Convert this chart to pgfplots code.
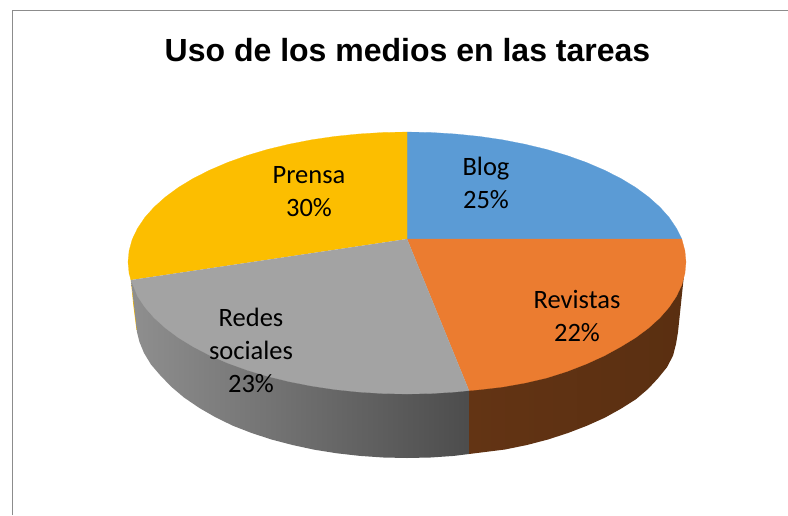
\documentclass[border=0pt]{standalone}
\usepackage{pgfplots}
\pgfplotsset{compat=1.18}
\usepackage{fontspec}
\setmainfont{Carlito}
\newfontfamily\titlefont{Liberation Sans}[BoldFont={Liberation Sans Bold}]
\definecolor{cblog}{HTML}{5B9BD5}
\definecolor{crev}{HTML}{EB7C30}
\definecolor{cred}{HTML}{A3A3A3}
\definecolor{cpre}{HTML}{FCBE00}
\definecolor{frame}{HTML}{8C8C8C}
\definecolor{brownA}{HTML}{633414}
\definecolor{brownB}{HTML}{5A2F11}
\begin{document}
\begin{tikzpicture}[x=1pt,y=1pt]
\path[use as bounding box] (0,0) rectangle (788,515);
\begin{axis}[at={(0,0)},anchor=south west,scale only axis,width=788pt,height=515pt,
  xmin=0,xmax=788,ymin=0,ymax=515,y dir=reverse,axis lines=none,no marks,clip=true]
% frame
\addplot[frame,line width=1.2pt] coordinates {(12.5,515) (12.5,10.5) (788,10.5)};
% yellow sliver
\addplot[fill=cpre,draw=none] coordinates {(130,272) (133.3,305) (136.5,330) (137.5,330) (131,280)};
% side: social networks
\addplot[draw=none,left color=black!44,right color=black!70] coordinates {
(131,280) (137,332) (139.5,342) (144,353) (151,364.5) (160,375) (171,386.5) (184,397.5) (199.4,408) (215.4,417.2) (232.8,425.7) (251.6,433) (271.5,439.5) (292.5,445) (314.3,449.7) (336.9,453.3) (360,455.9) (383.4,457.5) (407,458) (430.6,457.5) (454,455.9) (469,454) (469,390) (300,380)};
% side: magazines
\addplot[draw=none,left color=brownA,right color=brownB] coordinates {
(469,390) (469,454) (505,449.5) (527,445) (548,439.5) (568,433) (587,425.7) (605,417.6) (621,408.7) (636,399.2) (648,389) (658,378.3) (667,367.2) (673,355.7) (676,344) (678,332) (684,275) (600,340)};
% top faces
\addplot[fill=cblog,draw=cblog,line width=0.2pt] coordinates {
(407,239) (407,132) (431.3,132.5) (455.4,134) (479.2,136.4) (502.4,139.8) (524.9,144.2) (546.5,149.4) (567,155.5) (586.3,162.4) (604.3,170.1) (620.7,178.4) (635.6,187.4) (648.6,197) (659.9,207.1) (669.2,217.5) (676.5,228.4) (681.8,239)};
\addplot[fill=cpre,draw=cpre,line width=0.2pt] coordinates {
(407,239) (407,132) (382.7,132.5) (358.6,134) (334.8,136.4) (311.6,139.8) (289.1,144.2) (267.5,149.4) (247,155.5) (227.7,162.4) (209.7,170.1) (193.3,178.4) (178.4,187.4) (165.4,197) (154.1,207.1) (144.8,217.5) (137.5,228.4) (132.2,239.4) (129.1,250.7) (128,262) (129.1,273.5) (131,280)};
\addplot[fill=crev,draw=crev,line width=0.2pt] coordinates {
(407,239) (681.8,239) (684.9,250.7) (686,262) (684.9,273.5) (681.8,284.9) (676.5,296.2) (669.2,307.1) (659.9,317.8) (648.6,328) (635.6,337.7) (620.7,346.8) (604.3,355.8) (586.3,364) (567,371.5) (546.5,378) (524.9,383) (502.4,387) (479.2,389.7) (469,390.6)};
\addplot[fill=cred,draw=cred,line width=0.2pt] coordinates {
(407,239) (469,390.6) (455.4,392) (431.3,393.5) (407,394) (382.7,393.5) (358.6,392) (334.8,389.5) (311.6,386) (289.1,381.6) (267.5,376.3) (247,370.1) (227.7,363.1) (209.7,355.3) (193.3,346.8) (178.4,337.7) (165.4,328) (154.1,317.8) (144.8,307.1) (137.5,296.2) (131,280)};
\node[anchor=base,font=\titlefont\bfseries\fontsize{32}{32}\selectfont] at (axis cs:407.5,61) {Uso de los medios en las tareas};
\tikzset{lab/.style={anchor=base,font=\fontsize{26.5}{26.5}\selectfont,inner sep=0pt,text=black}}
\node[lab] at (axis cs:486,175) {Blog};
\node[lab] at (axis cs:486,208) {25\%};
\node[lab] at (axis cs:309,183) {Prensa};
\node[lab] at (axis cs:309,216) {30\%};
\node[lab] at (axis cs:577,308) {Revistas};
\node[lab] at (axis cs:577,341) {22\%};
\node[lab] at (axis cs:251,326) {Redes};
\node[lab] at (axis cs:251,359) {sociales};
\node[lab] at (axis cs:251,392) {23\%};
\end{axis}
\end{tikzpicture}
\end{document}
